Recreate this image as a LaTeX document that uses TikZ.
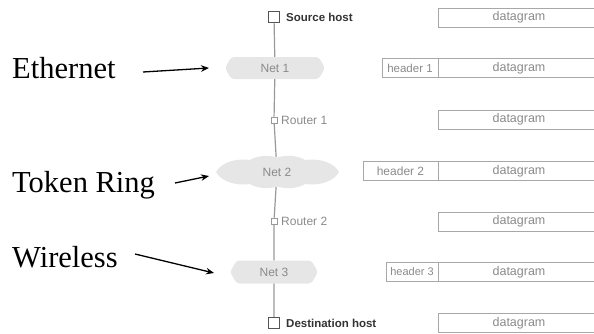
\documentclass[tikz,border=0pt]{standalone}
\usepackage{fontspec}
\setmainfont{Liberation Serif}
\setsansfont{Liberation Sans}
\usetikzlibrary{shapes.symbols,shapes.geometric,arrows.meta}
\definecolor{netfill}{HTML}{E6E6E6}
\definecolor{txtc}{HTML}{8A8A8A}
\definecolor{darkc}{HTML}{333333}
\definecolor{boxc}{HTML}{A8A8A8}
\definecolor{spinec}{HTML}{999999}
\definecolor{hostc}{HTML}{555555}
\begin{document}
\begin{tikzpicture}[x=1pt,y=-1pt,
  host/.style={draw=hostc, fill=white, line width=1.1pt, minimum size=11pt, inner sep=0pt},
  router/.style={draw=spinec, fill=white, line width=0.8pt, minimum size=6pt, inner sep=0pt},
  hostlbl/.style={font=\sffamily\bfseries\fontsize{11.5}{12}\selectfont, text=darkc, anchor=west, inner sep=0pt},
  rlbl/.style={font=\sffamily\fontsize{12}{13}\selectfont, text=txtc, anchor=west, inner sep=0pt},
  hexnet/.style={signal, signal to=west and east, signal pointer angle=120, fill=netfill, rounded corners=3pt,
     minimum height=22pt, inner sep=0pt, font=\sffamily\fontsize{12}{13}\selectfont, text=txtc},
  cloudnet/.style={ellipse, minimum width=121pt, minimum height=30pt, inner sep=0pt,
     font=\sffamily\fontsize{12}{13}\selectfont, text=txtc},
  dgram/.style={draw=boxc, line width=0.8pt, minimum width=162pt, minimum height=19pt, inner sep=0pt,
     font=\sffamily\fontsize{12.5}{13}\selectfont, text=txtc},
  hdr/.style={draw=boxc, line width=0.8pt, minimum height=19pt, inner sep=0pt,
     font=\sffamily\fontsize{12}{13}\selectfont, text=txtc},
  lbl/.style={font=\fontsize{30.5}{32}\selectfont, anchor=base west, inner sep=0pt},
  arr/.style={-{Stealth[length=8pt,width=6.5pt]}, line width=1.3pt}]
\useasboundingbox (0,0) rectangle (594,333);
\clip (0,0) rectangle (594,333);

% cloud outline for Net 2
\fill[netfill] (216,172) .. controls (221,163) and (234,158) .. (250,160)
  .. controls (258,155) and (270,155) .. (277,157.5)
  .. controls (285,155) and (297,155) .. (305,160)
  .. controls (321,158) and (334,163) .. (339,172)
  .. controls (334,181) and (321,186) .. (305,184)
  .. controls (297,189) and (285,189) .. (277,186.5)
  .. controls (270,189) and (258,189) .. (250,184)
  .. controls (234,186) and (221,181) .. (216,172) -- cycle;

% spine nodes
\node[host] (src) at (274,17) {};
\node[hostlbl] (srcl) at (286,17) {Source host};
\node[hexnet, minimum width=100pt] (net1) at (275,68) {Net 1};
\node[router] (r1) at (274,120) {};
\node[rlbl] (r1l) at (281,120) {Router 1};
\node[cloudnet] (net2) at (277,172) {Net 2};
\node[router] (r2) at (274,221) {};
\node[rlbl] (r2l) at (281,221) {Router 2};
\node[hexnet, minimum width=88pt, minimum height=23pt] (net3) at (274,272) {Net 3};
\node[host] (dst) at (274,323) {};
\node[hostlbl] (dstl) at (286,323) {Destination host};

\draw[spinec, line width=1.2pt] (src) -- (net1) -- (r1) -- (net2) -- (r2) -- (net3) -- (dst);

% datagrams
\node[dgram] (d1) at (519,17.5) {datagram};
\node[dgram] (d2) at (519,68) {datagram};
\node[dgram] (d3) at (519,119.5) {datagram};
\node[dgram] (d4) at (519,171) {datagram};
\node[dgram] (d5) at (519,221.5) {datagram};
\node[dgram] (d6) at (519,272) {datagram};
\node[dgram] (d7) at (519,323) {datagram};
\node[hdr, minimum width=56pt, font=\sffamily\fontsize{11.5}{12}\selectfont] (h1) at (410,68) {header 1};
\node[hdr, minimum width=75pt] (h2) at (400.5,171) {header 2};
\node[hdr, minimum width=52pt, font=\sffamily\fontsize{11}{12}\selectfont] (h3) at (412,272) {header 3};

% left labels
\node[lbl] (eth) at (12,78) {Ethernet};
\node[lbl] (tok) at (12,192) {Token Ring};
\node[lbl] (wls) at (12,267) {Wireless};
\coordinate (a1s) at (143,72);
\coordinate (a1e) at (209,68);
\coordinate (a2s) at (175,183);
\coordinate (a2e) at (209,176);
\coordinate (a3s) at (135,254);
\coordinate (a3e) at (214,273);
\draw[arr] (a1s) -- (a1e);
\draw[arr] (a2s) -- (a2e);
\draw[arr] (a3s) -- (a3e);
\end{tikzpicture}
\end{document}
